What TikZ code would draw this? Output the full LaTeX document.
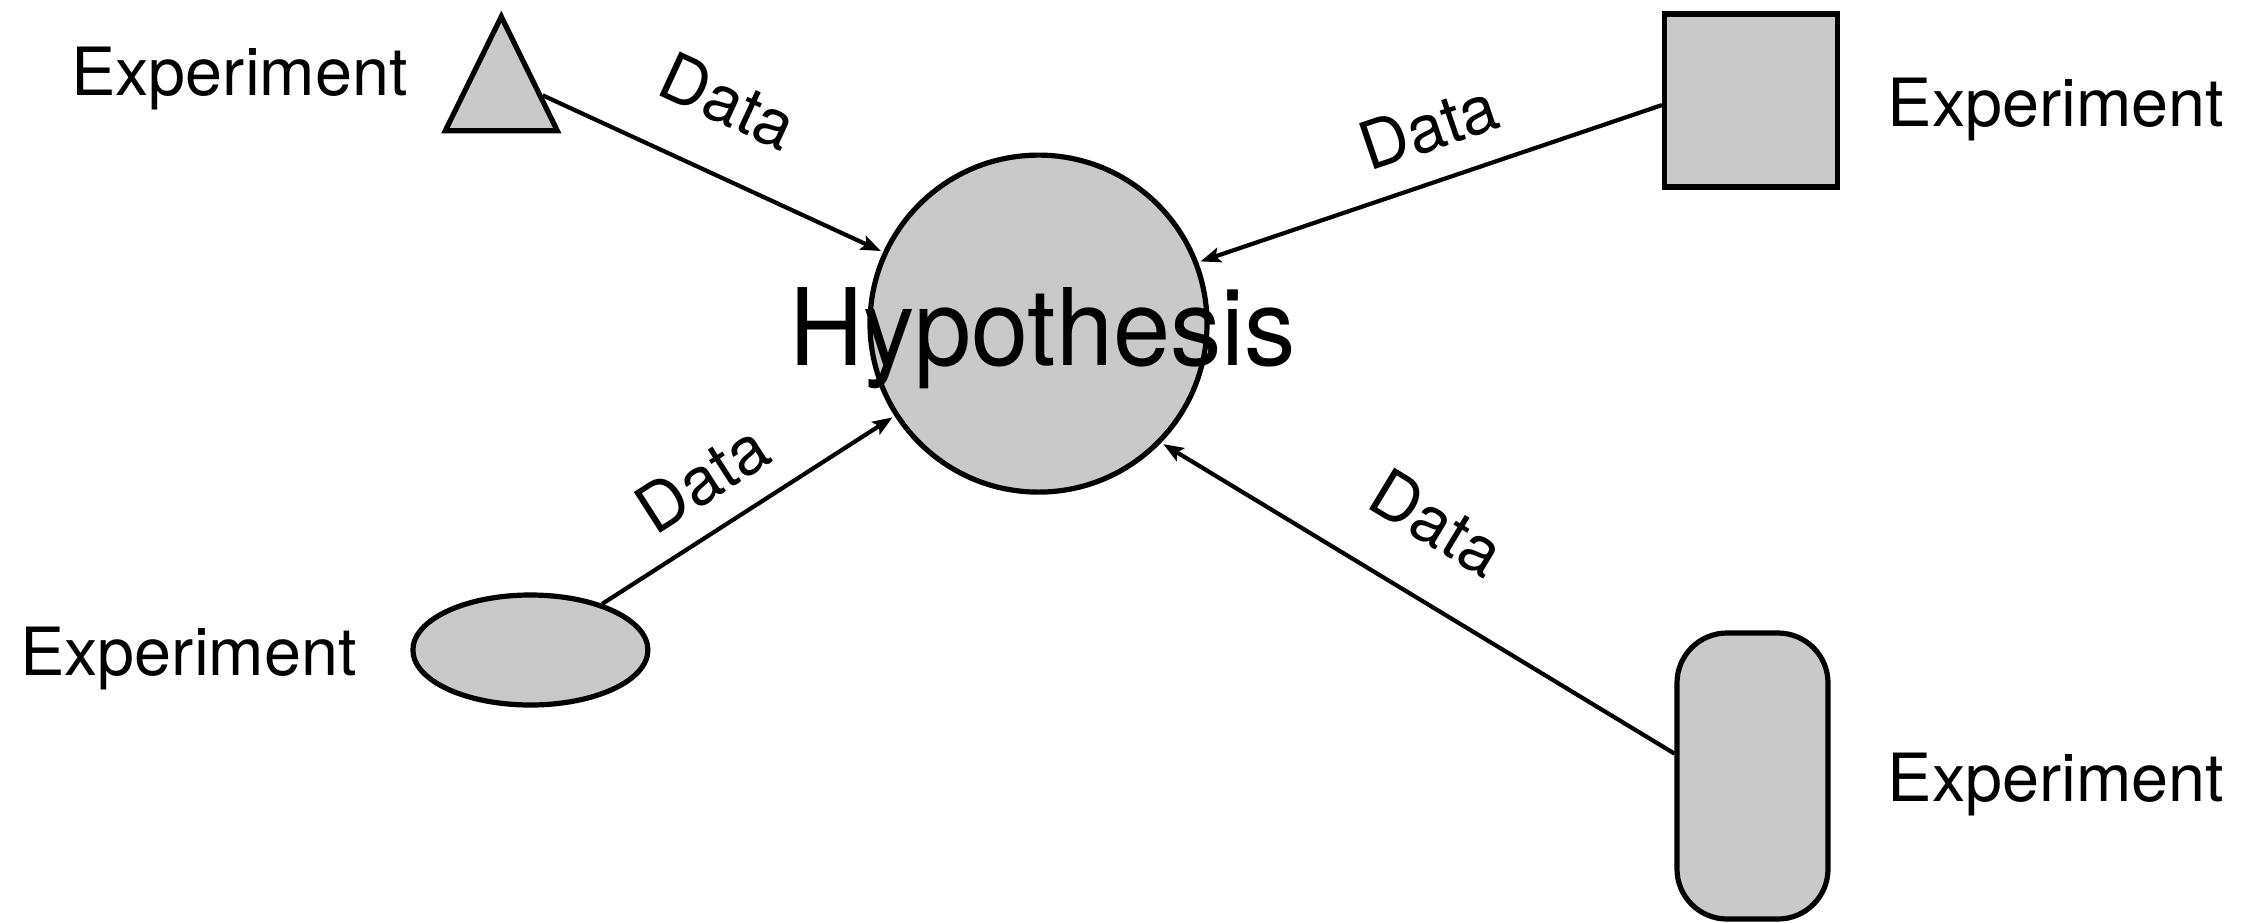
\documentclass[tikz,border=0pt]{standalone}
\usepackage{fontspec}
\setmainfont{TeX Gyre Heros}
\newfontfamily\hypfont{TeX Gyre Heros}[FakeStretch=0.96]
\usetikzlibrary{shapes.geometric,arrows.meta,calc}
\definecolor{shapefill}{RGB}{201,201,201}
\tikzset{
  expshape/.style={draw=black, fill=shapefill, line width=5.2pt, inner sep=0pt, outer sep=2.5pt},
  explabel/.style={font=\fontsize{66.5}{80}\selectfont, anchor=base, inner sep=0pt},
  datalink/.style={line width=4.2pt, -{Stealth[length=20pt,width=15pt,inset=4pt]}},
  datalabel/.style={font=\fontsize{66.5}{80}\selectfont, sloped, anchor=south, outer sep=0pt},
}
\begin{document}
\begin{tikzpicture}[x=1pt,y=-1pt]
\useasboundingbox (0,0) rectangle (2260,922);

% central hypothesis
\node[expshape, circle, minimum size=337pt, outer sep=5pt] (hyp) at (1038.5,323.6) {};
\node[font=\hypfont\fontsize{107}{128}\selectfont, anchor=base, inner sep=0pt] (hyptext) at (1042.5,365) {Hypothesis};

% the four experiments
\node[expshape, isosceles triangle, isosceles triangle apex angle=52.3,
      shape border rotate=90, minimum width=112pt, minimum height=112pt,
      anchor=apex] (tri) at (501.3,11) {};
\node[expshape, rectangle, minimum width=173pt, minimum height=173pt] (sq) at (1751,100.4) {};
\node[expshape, ellipse, minimum width=235pt, minimum height=110pt] (ell) at (530.4,650) {};
\node[expshape, rectangle, rounded corners=50pt, minimum width=151pt, minimum height=286pt] (pill) at (1752.5,776) {};

\node[explabel] (e1) at (239.5,95) {Experiment};
\node[explabel] (e2) at (2056,126) {Experiment};
\node[explabel] (e3) at (188.5,675) {Experiment};
\node[explabel] (e4) at (2056,801) {Experiment};

% data flowing into the hypothesis
\draw[datalink] ($(tri.apex)!0.69!(tri.right corner)$) -- node[datalabel, pos=0.46, inner sep=48pt] {Data} (hyp);
\draw[datalink] (sq.183) -- node[datalabel, pos=0.468, inner sep=29.5pt] {Data} (hyp.21);
\draw[datalink] (ell) -- node[datalabel, pos=0.44, inner sep=26.5pt] {Data} (hyp);
\draw[datalink] (pill.164) -- node[datalabel, pos=0.54, inner sep=50pt] {Data} (hyp.-44);
\end{tikzpicture}
\end{document}
